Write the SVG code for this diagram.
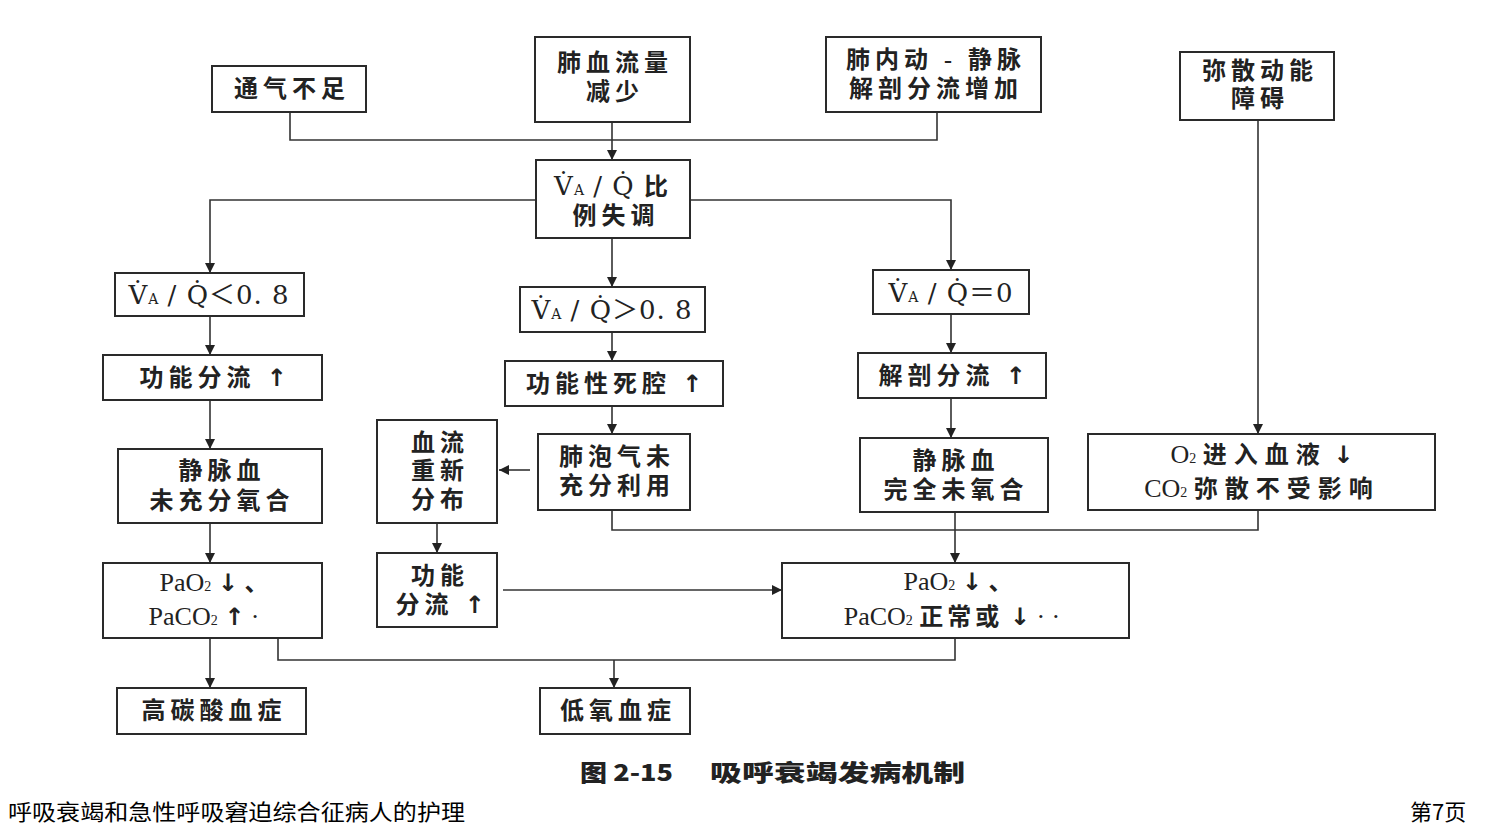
<svg xmlns="http://www.w3.org/2000/svg" width="1512" height="831" viewBox="0 0 1512 831">
<style>
.box{fill:#fff;stroke:#2a2a2a;stroke-width:2}
.t{font-family:"Liberation Serif","Noto Sans CJK SC",serif;font-size:24px;font-weight:600;fill:#222;text-anchor:middle;letter-spacing:5px}
.m{font-family:"Liberation Serif","Noto Sans CJK SC",serif;font-size:26px;fill:#222;text-anchor:middle;letter-spacing:0}
.zh{font-family:"Noto Sans CJK SC",sans-serif;font-size:24px;font-weight:600;letter-spacing:4px}
.zw{letter-spacing:7px}
.ar{font-family:"DejaVu Sans",sans-serif;font-weight:700;font-size:24px;letter-spacing:0}
.v{font-family:"DejaVu Serif","Noto Sans CJK SC",serif;font-size:26px;fill:#222;text-anchor:middle;letter-spacing:1px}
.sub{font-size:14px;letter-spacing:0}
.ln{fill:none;stroke:#333;stroke-width:1.6}
.cap{font-family:"Noto Sans CJK SC",sans-serif;font-size:23px;font-weight:900;fill:#222}
.foot{font-family:"Noto Sans CJK SC",sans-serif;font-size:22px;fill:#000}
</style>
<defs>
<marker id="ah" markerUnits="userSpaceOnUse" markerWidth="10" markerHeight="12" refX="10" refY="5" orient="auto">
<path d="M0,0 L10,5 L0,10 z" fill="#222"/>
</marker>
</defs>
<rect width="1512" height="831" fill="#fff"/>
<g id="connectors">
<path class="ln" d="M290 112 V140 H937 V112"/>
<path class="ln" d="M612 122 V160" marker-end="url(#ah)"/>
<path class="ln" d="M536 200 H210 V273" marker-end="url(#ah)"/>
<path class="ln" d="M690 200 H951 V270" marker-end="url(#ah)"/>
<path class="ln" d="M612 238 V287" marker-end="url(#ah)"/>
<path class="ln" d="M210 316 V355" marker-end="url(#ah)"/>
<path class="ln" d="M612 332 V361" marker-end="url(#ah)"/>
<path class="ln" d="M951 314 V353" marker-end="url(#ah)"/>
<path class="ln" d="M210 400 V449" marker-end="url(#ah)"/>
<path class="ln" d="M612 406 V434" marker-end="url(#ah)"/>
<path class="ln" d="M951 398 V438" marker-end="url(#ah)"/>
<path class="ln" d="M1258 120 V434" marker-end="url(#ah)"/>
<path class="ln" d="M530 470 H499" marker-end="url(#ah)"/>
<path class="ln" d="M437 523 V553" marker-end="url(#ah)"/>
<path class="ln" d="M210 523 V563" marker-end="url(#ah)"/>
<path class="ln" d="M612 510 V530 H1258 V510"/>
<path class="ln" d="M955 512 V563" marker-end="url(#ah)"/>
<path class="ln" d="M503 590 H782" marker-end="url(#ah)"/>
<path class="ln" d="M210 638 V688" marker-end="url(#ah)"/>
<path class="ln" d="M278 638 V660 H955 V638"/>
<path class="ln" d="M614 660 V688" marker-end="url(#ah)"/>
</g>
<g id="n1"><rect class="box" x="212" y="66" width="154" height="46"/><text class="t" x="292" y="97">通气不足</text></g>
<g id="n2"><rect class="box" x="535" y="37" width="155" height="85"/><text class="t" x="615" y="71">肺血流量</text><text class="t" x="615" y="100">减少</text></g>
<g id="n3"><rect class="box" x="826" y="37" width="215" height="75"/><text class="t" x="936" y="68">肺内动 - 静脉</text><text class="t" x="936" y="97">解剖分流增加</text></g>
<g id="n4"><rect class="box" x="1180" y="52" width="154" height="68"/><text class="t" x="1260" y="79">弥散动能</text><text class="t" x="1260" y="107">障碍</text></g>
<g id="n5"><rect class="box" x="536" y="160" width="154" height="78"/><text class="v" x="613" y="195">V̇<tspan class="sub">A</tspan> / Q̇ <tspan class="zh">比</tspan></text><text class="t" x="616" y="224">例失调</text></g>
<g id="n6"><rect class="box" x="115" y="273" width="189" height="43"/><text class="v" x="209" y="304">V̇<tspan class="sub">A</tspan> / Q̇＜0. 8</text></g>
<g id="n7"><rect class="box" x="520" y="287" width="185" height="45"/><text class="v" x="612" y="319">V̇<tspan class="sub">A</tspan> / Q̇＞0. 8</text></g>
<g id="n8"><rect class="box" x="873" y="270" width="156" height="44"/><text class="v" x="951" y="302">V̇<tspan class="sub">A</tspan> / Q̇＝0</text></g>
<g id="n9"><rect class="box" x="103" y="355" width="219" height="45"/><text class="t" x="213" y="386">功能分流 <tspan class="ar">↑</tspan></text></g>
<g id="n10"><rect class="box" x="505" y="361" width="218" height="45"/><text class="t" x="614" y="392">功能性死腔 <tspan class="ar">↑</tspan></text></g>
<g id="n11"><rect class="box" x="858" y="353" width="188" height="45"/><text class="t" x="952" y="384">解剖分流 <tspan class="ar">↑</tspan></text></g>
<g id="n12"><rect class="box" x="118" y="449" width="204" height="74"/><text class="t" x="222" y="479">静脉血</text><text class="t" x="222" y="509">未充分氧合</text></g>
<g id="n13"><rect class="box" x="377" y="420" width="120" height="103"/><text class="t" x="440" y="451">血流</text><text class="t" x="440" y="479">重新</text><text class="t" x="440" y="508">分布</text></g>
<g id="n14"><rect class="box" x="538" y="434" width="152" height="76"/><text class="t" x="617" y="465">肺泡气未</text><text class="t" x="617" y="494">充分利用</text></g>
<g id="n15"><rect class="box" x="860" y="438" width="188" height="74"/><text class="t" x="956" y="469">静脉血</text><text class="t" x="956" y="498">完全未氧合</text></g>
<g id="n16"><rect class="box" x="1088" y="434" width="347" height="76"/><text class="m" x="1262" y="463">O<tspan class="sub">2</tspan> <tspan class="zh zw">进入血液</tspan> <tspan class="ar">↓</tspan></text><text class="m" x="1262" y="497">CO<tspan class="sub">2</tspan> <tspan class="zh zw">弥散不受影响</tspan></text></g>
<g id="n17"><rect class="box" x="103" y="563" width="219" height="75"/><text class="m" x="216" y="591">PaO<tspan class="sub">2</tspan> <tspan class="ar">↓</tspan> <tspan class="zh">、</tspan></text><text class="m" x="204" y="625">PaCO<tspan class="sub">2</tspan> <tspan class="ar">↑</tspan> ·</text></g>
<g id="n18"><rect class="box" x="377" y="553" width="120" height="74"/><text class="t" x="440" y="584">功能</text><text class="t" x="440" y="613">分流 <tspan class="ar">↑</tspan></text></g>
<g id="n19"><rect class="box" x="782" y="563" width="347" height="75"/><text class="m" x="960" y="590">PaO<tspan class="sub">2</tspan> <tspan class="ar">↓</tspan> <tspan class="zh">、</tspan></text><text class="m" x="952" y="625">PaCO<tspan class="sub">2</tspan> <tspan class="zh">正常或</tspan> <tspan class="ar">↓</tspan> · ·</text></g>
<g id="n20"><rect class="box" x="117" y="688" width="189" height="46"/><text class="t" x="214" y="719">高碳酸血症</text></g>
<g id="n21"><rect class="box" x="540" y="688" width="150" height="46"/><text class="t" x="618" y="719">低氧血症</text></g>
<text class="cap" x="580" y="781" textLength="93" lengthAdjust="spacingAndGlyphs">图 2-15</text>
<text class="cap" x="710" y="781" textLength="255" lengthAdjust="spacingAndGlyphs">吸呼衰竭发病机制</text>
<text class="foot" x="8" y="820" textLength="457" lengthAdjust="spacingAndGlyphs">呼吸衰竭和急性呼吸窘迫综合征病人的护理</text>
<text class="foot" x="1410" y="820">第7页</text>
</svg>
